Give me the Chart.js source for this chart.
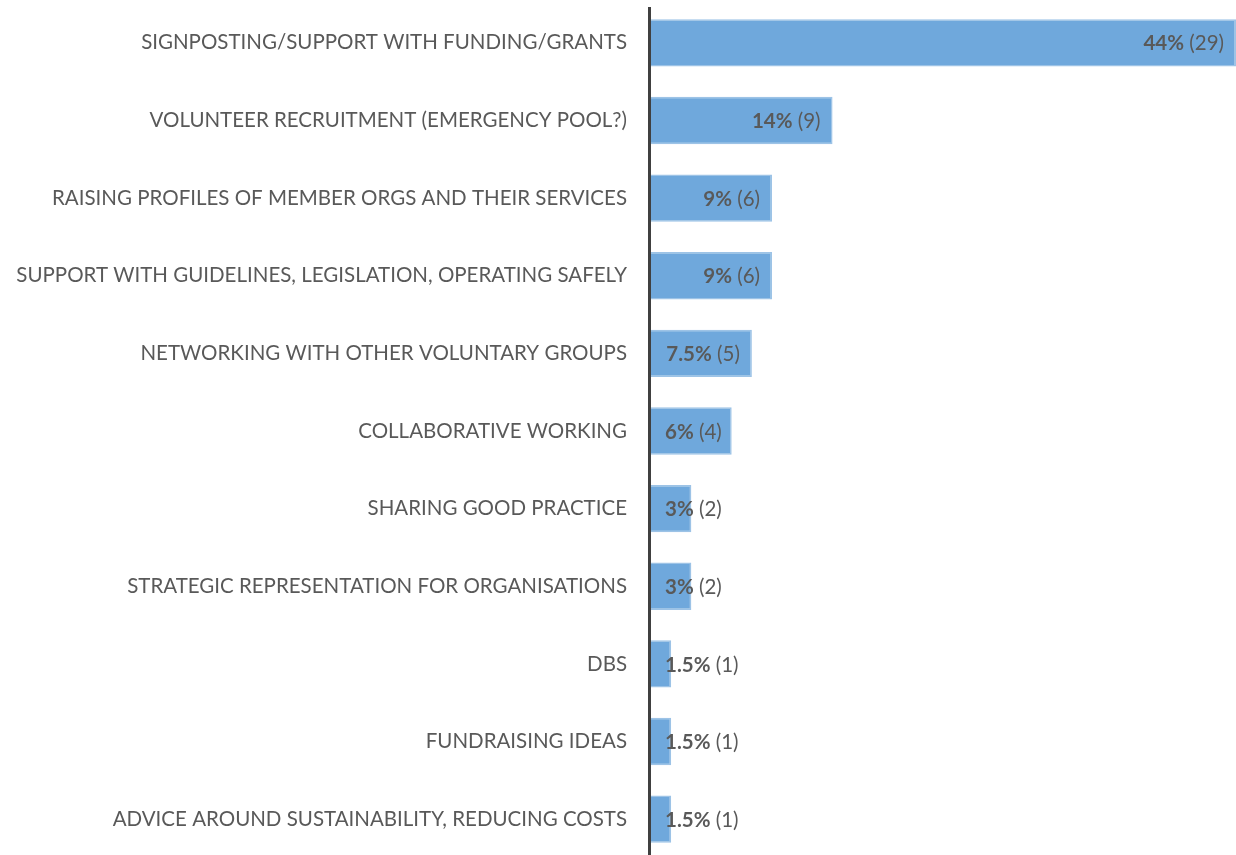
<!DOCTYPE html>
<html>
<head>
<meta charset="utf-8">
<script src="https://cdn.jsdelivr.net/npm/chart.js@4"></script>
<style>
  html, body { margin: 0; padding: 0; background: #fff; overflow: hidden; }
  #wrap { width: 1236px; height: 862px; position: relative; }
</style>
</head>
<body>
<div id="wrap"><canvas id="needsChart"></canvas></div>
<script>
const categories = [
  'SIGNPOSTING/SUPPORT WITH FUNDING/GRANTS',
  'VOLUNTEER RECRUITMENT (EMERGENCY POOL?)',
  'RAISING PROFILES OF MEMBER ORGS AND THEIR SERVICES',
  'SUPPORT WITH GUIDELINES, LEGISLATION, OPERATING SAFELY',
  'NETWORKING WITH OTHER VOLUNTARY GROUPS',
  'COLLABORATIVE WORKING',
  'SHARING GOOD PRACTICE',
  'STRATEGIC REPRESENTATION FOR ORGANISATIONS',
  'DBS',
  'FUNDRAISING IDEAS',
  'ADVICE AROUND SUSTAINABILITY, REDUCING COSTS'
];
const counts = [29, 9, 6, 6, 5, 4, 2, 2, 1, 1, 1];
const percentLabels = ['44%', '14%', '9%', '9%', '7.5%', '6%', '3%', '3%', '1.5%', '1.5%', '1.5%'];

const FONT = 'Lato, "Open Sans", sans-serif';
const TEXT_COLOR = '#595959';
const SIZE = 20.5;

// draws the "44% (29)" labels and the dark axis line on top of the bars
const barLabels = {
  id: 'barLabels',
  afterDatasetsDraw(chart) {
    const ctx = chart.ctx;
    const meta = chart.getDatasetMeta(0);
    const area = chart.chartArea;
    ctx.save();
    ctx.textBaseline = 'middle';
    meta.data.forEach((bar, i) => {
      const bold = percentLabels[i];
      const rest = ' (' + counts[i] + ')';
      ctx.font = 'bold ' + SIZE + 'px ' + FONT;
      const wb = ctx.measureText(bold).width;
      ctx.font = SIZE + 'px ' + FONT;
      const wr = ctx.measureText(rest).width;
      let x = bar.x - 12 - wb - wr;
      if (x < bar.base + 14) x = bar.base + 14;
      ctx.fillStyle = TEXT_COLOR;
      ctx.font = 'bold ' + SIZE + 'px ' + FONT;
      ctx.fillText(bold, x, bar.y + 1);
      ctx.font = SIZE + 'px ' + FONT;
      ctx.fillText(rest, x + wb, bar.y + 1);
    });
    // axis line
    const x0 = chart.scales.x.getPixelForValue(0);
    ctx.strokeStyle = '#404040';
    ctx.lineWidth = 3;
    ctx.beginPath();
    ctx.moveTo(x0 - 1.5, area.top + 3);
    ctx.lineTo(x0 - 1.5, chart.height);
    ctx.stroke();
    ctx.restore();
  }
};

const ctx = document.getElementById('needsChart');

new Chart(ctx, {
  type: 'bar',
  data: {
    labels: categories,
    datasets: [{
      data: counts,
      backgroundColor: '#6fa8dc',
      borderColor: '#9dc3e6',
      borderWidth: 1.5,
      barPercentage: 0.61,
      categoryPercentage: 1
    }]
  },
  options: {
    indexAxis: 'y',
    responsive: true,
    maintainAspectRatio: false,
    animation: false,
    layout: {
      padding: { top: 4, bottom: 4, left: 0, right: 0 }
    },
    scales: {
      x: {
        display: false,
        min: 0,
        max: 29
      },
      y: {
        grid: { display: false, drawTicks: false },
        border: { display: false },
        ticks: {
          color: TEXT_COLOR,
          padding: 24,
          font: { family: FONT, size: SIZE }
        },
        afterFit(scale) {
          scale.width = 651;
          scale.paddingTop = 0;
          scale.paddingBottom = 0;
        }
      }
    },
    plugins: {
      legend: { display: false },
      tooltip: { enabled: false }
    }
  },
  plugins: [barLabels]
});
</script>
</body>
</html>
